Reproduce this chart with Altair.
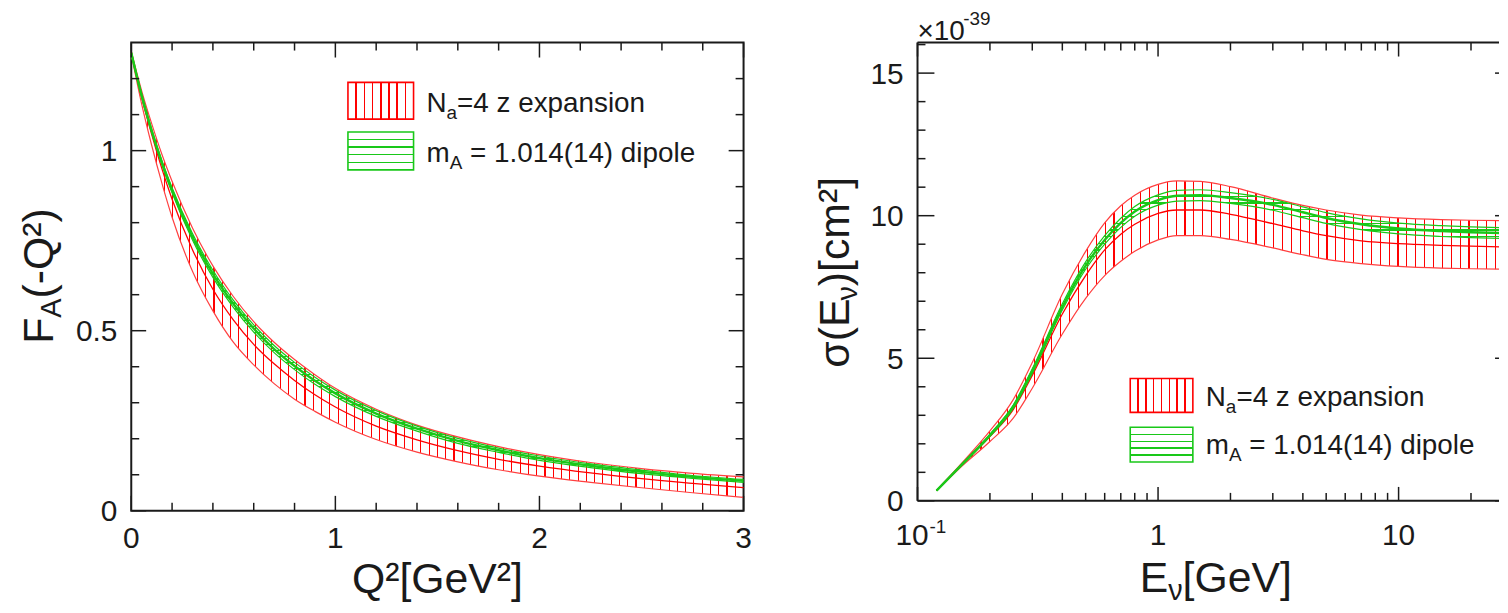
import altair as alt
import pandas as pd

FONT = "Liberation Sans"
INK = "#1a1a1a"
RED = "#ff0000"
RED_EDGE = "#ff4040"
GREEN = "#19c819"

# ---------------- left panel: F_A(-Q^2) ----------------
q2 = [0.0, 0.05, 0.1, 0.15, 0.2, 0.3, 0.4, 0.5, 0.6, 0.7, 0.8, 0.9, 1.0,
      1.2, 1.4, 1.6, 1.8, 2.0, 2.25, 2.5, 2.75, 3.0]
fa_z_hi = [1.276, 1.168, 1.075, 0.990, 0.915, 0.785, 0.680, 0.595, 0.525, 0.468, 0.420,
           0.378, 0.340, 0.282, 0.238, 0.205, 0.178, 0.156, 0.134, 0.117, 0.104, 0.094]
fa_z_mid = [1.272, 1.150, 1.045, 0.950, 0.865, 0.725, 0.615, 0.530, 0.462, 0.408, 0.362,
            0.322, 0.288, 0.235, 0.197, 0.167, 0.143, 0.124, 0.105, 0.089, 0.076, 0.064]
fa_z_lo = [1.268, 1.132, 1.015, 0.910, 0.815, 0.665, 0.555, 0.468, 0.405, 0.353, 0.310,
           0.276, 0.246, 0.198, 0.163, 0.136, 0.114, 0.096, 0.079, 0.064, 0.050, 0.037]
fa_d_hi = [1.275, 1.160, 1.060, 0.973, 0.897, 0.770, 0.668, 0.585, 0.516, 0.459, 0.412,
           0.371, 0.335, 0.278, 0.235, 0.201, 0.174, 0.152, 0.130, 0.113, 0.098, 0.087]
fa_d_mid = [1.272, 1.155, 1.055, 0.967, 0.890, 0.761, 0.658, 0.575, 0.506, 0.449, 0.402,
            0.361, 0.326, 0.270, 0.228, 0.194, 0.168, 0.146, 0.125, 0.108, 0.094, 0.083]
fa_d_lo = [1.269, 1.150, 1.050, 0.961, 0.883, 0.752, 0.648, 0.565, 0.496, 0.439, 0.392,
           0.351, 0.317, 0.262, 0.221, 0.187, 0.162, 0.140, 0.120, 0.103, 0.090, 0.079]

# ---------------- right panel: sigma(E_nu) [1e-39 cm^2] ----------------
enu = [0.12, 0.15, 0.2, 0.25, 0.3, 0.4, 0.5, 0.6, 0.7, 0.8, 1.0, 1.2, 1.5, 2.0,
       3.0, 4.0, 5.0, 7.0, 10.0, 15.0, 20.0, 30.0]
sig_z_hi = [0.37, 1.25, 2.45, 3.55, 4.85, 7.25, 8.75, 9.75, 10.35, 10.72, 11.10, 11.22,
            11.20, 11.02, 10.62, 10.36, 10.20, 10.02, 9.92, 9.86, 9.84, 9.82]
sig_z_mid = [0.36, 1.20, 2.25, 3.20, 4.40, 6.55, 7.90, 8.80, 9.35, 9.70, 10.08, 10.20,
             10.20, 10.05, 9.72, 9.47, 9.30, 9.12, 9.02, 8.96, 8.93, 8.90]
sig_z_lo = [0.35, 1.15, 2.08, 2.90, 3.95, 5.85, 7.10, 7.90, 8.40, 8.75, 9.15, 9.30,
            9.30, 9.17, 8.87, 8.63, 8.47, 8.32, 8.22, 8.16, 8.14, 8.12]
sig_d_hi = [0.37, 1.22, 2.34, 3.36, 4.63, 6.91, 8.38, 9.30, 9.91, 10.32, 10.73, 10.89,
            10.91, 10.81, 10.57, 10.31, 10.11, 9.89, 9.74, 9.65, 9.61, 9.57]
sig_d_mid = [0.36, 1.20, 2.30, 3.30, 4.55, 6.80, 8.25, 9.15, 9.75, 10.15, 10.55, 10.70,
             10.72, 10.62, 10.38, 10.12, 9.92, 9.70, 9.55, 9.46, 9.42, 9.38]
sig_d_lo = [0.35, 1.18, 2.26, 3.24, 4.47, 6.69, 8.12, 9.00, 9.59, 9.98, 10.37, 10.51,
            10.53, 10.43, 10.19, 9.93, 9.73, 9.51, 9.36, 9.27, 9.23, 9.19]

# ---------------- ticks and tick labels ----------------
q2_major = [0, 1, 2, 3]
q2_minor = [0.2, 0.4, 0.6, 0.8, 1.2, 1.4, 1.6, 1.8, 2.2, 2.4, 2.6, 2.8]
q2_labels = ["0", "1", "2", "3"]
fa_major = [0, 0.5, 1.0]
fa_minor = [0.1, 0.2, 0.3, 0.4, 0.6, 0.7, 0.8, 0.9, 1.1, 1.2]
fa_labels = ["0", "0.5", "1"]
e_major = [0.1, 1, 10]
e_minor = [0.2, 0.3, 0.4, 0.5, 0.6, 0.7, 0.8, 0.9, 2, 3, 4, 5, 6, 7, 8, 9, 20]
e_labels = ["10", "1", "10"]
e_label_sup = ["-1", "", ""]
sig_major = [0, 5, 10, 15]
sig_minor = [1, 2, 3, 4, 6, 7, 8, 9, 11, 12, 13, 14, 16]
sig_labels = ["0", "5", "10", "15"]

legend_z = ["N", "a", "=4 z expansion"]
legend_d = ["m", "A", "= 1.014(14) dipole"]

# ---------------- panel geometry ----------------
LW, LH = 616, 471
RW, RH = 585, 461
E_MAX = 26.15
SIG_MAX = 16.07

one = pd.DataFrame({"k": [0]})


def hatch(n, color, half, vertical=True):
    clear = "rgba(255,255,255,0)"
    stops = []
    for k in range(1, n):
        o = k / n
        a, b = o - half, o + half
        stops += [alt.GradientStop(offset=a, color=clear), alt.GradientStop(offset=a, color=color),
                  alt.GradientStop(offset=b, color=color), alt.GradientStop(offset=b, color=clear)]
    if vertical:
        return alt.LinearGradient(gradient="linear", stops=stops, x1=0, x2=1, y1=0, y2=0)
    return alt.LinearGradient(gradient="linear", stops=stops, x1=0, x2=0, y1=0, y2=1)


def txt(s, x, y, size, angle=None, align="left", color=INK):
    kw = dict(text=s, align=align, baseline="alphabetic", font=FONT, fontSize=size, color=color)
    if angle:
        kw["angle"] = angle
    return alt.Chart(one).mark_text(**kw).encode(x=alt.value(x), y=alt.value(y))


def box(x1, x2, y1, y2, fill, stroke):
    return alt.Chart(one).mark_rect(fill=fill, stroke=stroke, strokeWidth=1.6).encode(
        x=alt.value(x1), x2=alt.value(x2), y=alt.value(y1), y2=alt.value(y2))


def hrule(x1, x2, y):
    return alt.Chart(one).mark_rule(color=INK, strokeWidth=2).encode(
        x=alt.value(x1), x2=alt.value(x2), y=alt.value(y))


def vrule(x, y1, y2):
    return alt.Chart(one).mark_rule(color=INK, strokeWidth=2).encode(
        x=alt.value(x), y=alt.value(y1), y2=alt.value(y2))


def xticks(values, xenc, length, H, top=True):
    df = pd.DataFrame({"v": values})
    base = alt.Chart(df).mark_rule(color=INK, strokeWidth=1.5)
    out = [base.encode(x=xenc("v"), y=alt.value(H), y2=alt.value(H - length))]
    if top:
        out.append(base.encode(x=xenc("v"), y=alt.value(0), y2=alt.value(length)))
    return out


def yticks(values, yenc, length, W, rlength=None):
    df = pd.DataFrame({"v": values})
    base = alt.Chart(df).mark_rule(color=INK, strokeWidth=1.5)
    rl = length if rlength is None else rlength
    return [base.encode(y=yenc("v"), x=alt.value(0), x2=alt.value(length)),
            base.encode(y=yenc("v"), x=alt.value(W), x2=alt.value(W - rl))]


def xlabels(pos, labels, xenc, y, size=30, dx=0, align="center"):
    df = pd.DataFrame({"v": pos, "t": labels})
    return alt.Chart(df).mark_text(align=align, baseline="alphabetic", font=FONT, fontSize=size,
                                   color=INK, dx=dx).encode(x=xenc("v"), y=alt.value(y), text="t:N")


def ylabels(pos, labels, yenc, x, size=30):
    df = pd.DataFrame({"v": pos, "t": labels})
    return alt.Chart(df).mark_text(align="right", baseline="alphabetic", font=FONT, fontSize=size,
                                   color=INK, dy=10.5).encode(y=yenc("v"), x=alt.value(x), text="t:N")


# ======== left panel ========
def xq(f):
    return alt.X(f"{f}:Q", scale=alt.Scale(domain=[0, 3], nice=False, zero=False), axis=None)


def yfa(f):
    return alt.Y(f"{f}:Q", scale=alt.Scale(domain=[0, 1.3], nice=False, zero=False), axis=None)


dfL = pd.DataFrame({"q2": q2, "zh": fa_z_hi, "zm": fa_z_mid, "zl": fa_z_lo,
                    "dh": fa_d_hi, "dm": fa_d_mid, "dl": fa_d_lo})
baseL = alt.Chart(dfL)
left_layers = [
    baseL.mark_area(fill=hatch(74, RED, 0.0009), interpolate="monotone").encode(
        x=xq("q2"), y=yfa("zl"), y2="zh:Q"),
    baseL.mark_line(color=RED_EDGE, strokeWidth=1.2, interpolate="monotone").encode(x=xq("q2"), y=yfa("zh")),
    baseL.mark_line(color=RED_EDGE, strokeWidth=1.2, interpolate="monotone").encode(x=xq("q2"), y=yfa("zl")),
    baseL.mark_line(color=RED, strokeWidth=1.3, interpolate="monotone").encode(x=xq("q2"), y=yfa("zm")),
    baseL.mark_area(fill=hatch(72, GREEN, 0.0016, vertical=False), interpolate="monotone").encode(
        x=xq("q2"), y=yfa("dl"), y2="dh:Q"),
    baseL.mark_line(color=GREEN, strokeWidth=1.2, interpolate="monotone").encode(x=xq("q2"), y=yfa("dh")),
    baseL.mark_line(color=GREEN, strokeWidth=1.2, interpolate="monotone").encode(x=xq("q2"), y=yfa("dl")),
    baseL.mark_line(color=GREEN, strokeWidth=2.4, interpolate="monotone").encode(x=xq("q2"), y=yfa("dm")),
]
left_layers += xticks(q2_major, xq, 15, LH)
left_layers += xticks(q2_minor, xq, 8, LH)
left_layers += yticks(fa_major, yfa, 15, LW)
left_layers += yticks(fa_minor, yfa, 8, LW)
left_layers += [xlabels(q2_major, q2_labels, xq, 508), ylabels(fa_major, fa_labels, yfa, -14)]
left_layers += [
    box(218, 284, 40, 77, hatch(8, RED, 0.012), RED),
    box(218, 284, 90, 128, hatch(5, GREEN, 0.02, vertical=False), GREEN),
    txt(legend_z[0], 297, 70, 28), txt(legend_z[1], 317.2, 77, 19), txt(legend_z[2], 327.8, 70, 28),
    txt(legend_d[0], 297, 120, 28), txt(legend_d[1], 320.3, 127, 19), txt(legend_d[2], 340.8, 120, 28),
    txt("Q²[GeV²]", 308, 554, 43, align="center"),
    txt("F", -79, 303, 43, angle=270), txt("A", -71, 276.7, 29, angle=270),
    txt("(-Q²)", -79, 257.4, 43, angle=270),
]
left = alt.layer(*left_layers).properties(width=LW, height=LH)


# ======== right panel ========
def xe(f):
    return alt.X(f"{f}:Q", scale=alt.Scale(type="log", domain=[0.1, E_MAX], nice=False), axis=None)


def ys(f):
    return alt.Y(f"{f}:Q", scale=alt.Scale(domain=[0, SIG_MAX], nice=False, zero=False), axis=None)


dfR = pd.DataFrame({"e": enu, "zh": sig_z_hi, "zm": sig_z_mid, "zl": sig_z_lo,
                    "dh": sig_d_hi, "dm": sig_d_mid, "dl": sig_d_lo})
baseR = alt.Chart(dfR)
right_layers = [
    baseR.mark_area(fill=hatch(65, RED, 0.001), interpolate="monotone", clip=True).encode(
        x=xe("e"), y=ys("zl"), y2="zh:Q"),
    baseR.mark_line(color=RED_EDGE, strokeWidth=1.2, interpolate="monotone", clip=True).encode(x=xe("e"), y=ys("zh")),
    baseR.mark_line(color=RED_EDGE, strokeWidth=1.2, interpolate="monotone", clip=True).encode(x=xe("e"), y=ys("zl")),
    baseR.mark_line(color=RED, strokeWidth=1.3, interpolate="monotone", clip=True).encode(x=xe("e"), y=ys("zm")),
    baseR.mark_area(fill=hatch(45, GREEN, 0.0022, vertical=False), interpolate="monotone", clip=True).encode(
        x=xe("e"), y=ys("dl"), y2="dh:Q"),
    baseR.mark_line(color=GREEN, strokeWidth=1.2, interpolate="monotone", clip=True).encode(x=xe("e"), y=ys("dh")),
    baseR.mark_line(color=GREEN, strokeWidth=1.2, interpolate="monotone", clip=True).encode(x=xe("e"), y=ys("dl")),
    baseR.mark_line(color=GREEN, strokeWidth=2.4, interpolate="monotone", clip=True).encode(x=xe("e"), y=ys("dm")),
]
# frame: top, bottom and left sides (the right side lies beyond the visible area)
right_layers += [hrule(0, RW, 0), hrule(0, RW, RH), vrule(0, 0, RH)]
right_layers += xticks(e_major, xe, 14, RH)
right_layers += xticks(e_minor, xe, 8, RH)
right_layers += yticks(sig_major, ys, 17, RW, rlength=4)
right_layers += yticks(sig_minor, ys, 8, 0, rlength=0)[:1]
right_layers += [
    xlabels(e_major[:1], e_labels[:1], xe, 505, dx=-5.5),
    xlabels(e_major[:1], e_label_sup[:1], xe, 493, size=19, dx=12, align="left"),
    xlabels(e_major[1:], e_labels[1:], xe, 505),
    ylabels(sig_major, sig_labels, ys, -14),
]
right_layers += [
    box(214, 277, 338, 372, hatch(8, RED, 0.012), RED),
    box(214, 277, 387, 422, hatch(5, GREEN, 0.02, vertical=False), GREEN),
    txt(legend_z[0], 290, 366, 28), txt(legend_z[1], 310.2, 373, 19), txt(legend_z[2], 320.8, 366, 28),
    txt(legend_d[0], 290, 414, 28), txt(legend_d[1], 313.3, 421, 19), txt(legend_d[2], 333.8, 414, 28),
    txt("×10", 0, -3, 28), txt("-39", 46, -18, 19),
    txt("E", 223.5, 553, 43), txt("ν", 252.2, 561, 29), txt("[GeV]", 266.7, 553, 43),
    txt("σ(E", -69, 327, 43, angle=270), txt("ν", -61, 259.5, 29, angle=270),
    txt(")[cm²]", -69, 245, 43, angle=270),
]
right = alt.layer(*right_layers).properties(
    width=RW, height=RH, view=alt.ViewBackground(strokeOpacity=0))

chart = alt.hconcat(left, right, spacing=175, bounds="flush").configure_view(
    stroke=INK, strokeWidth=2
).properties(padding={"left": 10, "top": 0, "right": 0, "bottom": 0})

chart.save("out.html", embed_options={"renderer": "svg", "actions": False})
